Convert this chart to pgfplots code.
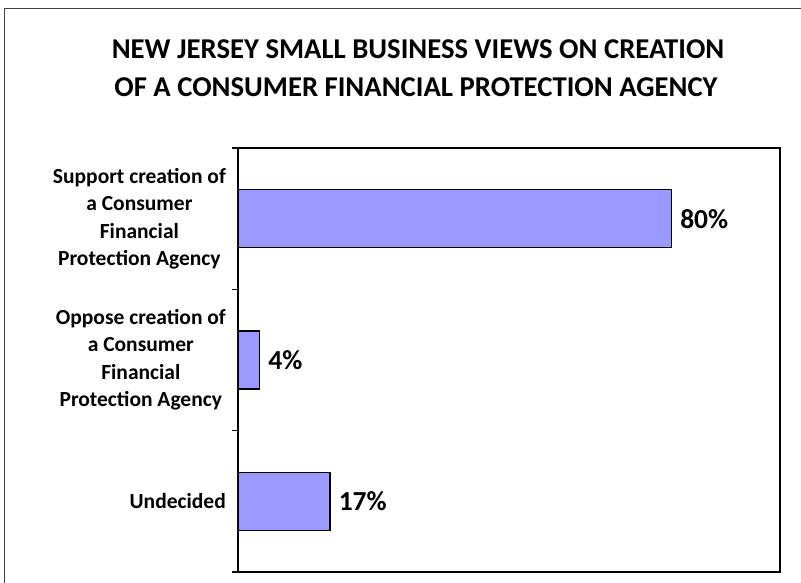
\documentclass[border=0pt]{standalone}
\usepackage{fontspec}
\setmainfont{Carlito}
\usepackage{pgfplots}
\pgfplotsset{compat=1.18}
\definecolor{barfill}{HTML}{9999FF}

\begin{document}
\begin{tikzpicture}[x=1pt,y=1pt]
\useasboundingbox (0,0) rectangle (801,583);
% outer chart frame (cut off at right and bottom)
\draw[black!75, line width=1pt] (4.5,574) rectangle (830,-30);
\node[font=\fontsize{28.7}{34}\selectfont\bfseries, anchor=base] at (418,524)
  {NEW JERSEY SMALL BUSINESS VIEWS ON CREATION};
\node[font=\fontsize{28.7}{34}\selectfont\bfseries, anchor=base] at (416,486)
  {OF A CONSUMER FINANCIAL PROTECTION AGENCY};
\begin{axis}[
  at={(238pt,11pt)}, anchor=south west,
  scale only axis, width=542pt, height=424pt,
  xbar, bar width=58pt,
  xmin=0, xmax=100, ymin=-0.5, ymax=2.5,
  xtick=\empty,
  ytick={0,1,2},
  yticklabels={Undecided,
    {Oppose creation of\\a Consumer\\Financial\\Protection Agency},
    {Support creation of\\a Consumer\\Financial\\Protection Agency}},
  minor ytick={-0.5,0.5,1.5,2.5},
  ytick pos=left,
  tick align=outside,
  major tick length=0pt,
  minor tick length=6pt,
  tick style={black, line width=1.3pt},
  axis line style={black, line width=1.6pt},
  yticklabel style={font=\fontsize{21.5}{27.5}\selectfont\bfseries,
    align=center, inner sep=0pt, xshift=-12pt},
  /pgf/number format/assume math mode=true,
  point meta=x,
  nodes near coords={\pgfmathprintnumber{\pgfplotspointmeta}\%},
  nodes near coords style={font=\fontsize{27.5}{30}\selectfont\bfseries,
    anchor=west, inner sep=0pt, xshift=8pt},
]
\addplot[fill=barfill, draw=black, line width=1.3pt] coordinates {
  (17,0)
  (4,1)
  (80,2)
};
\end{axis}
\end{tikzpicture}
\end{document}
